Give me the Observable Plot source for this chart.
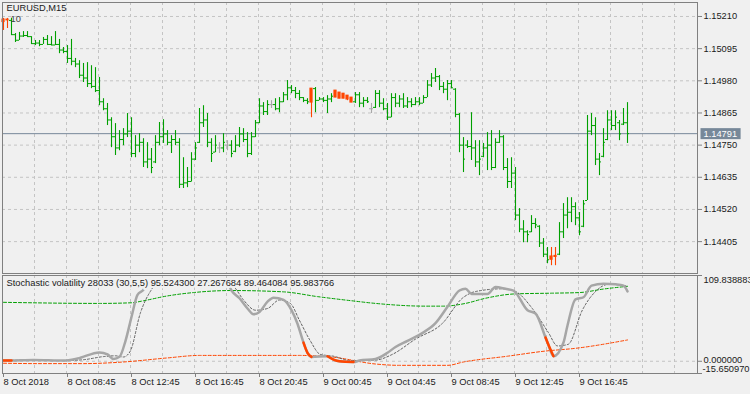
<!DOCTYPE html>
<html><head><meta charset="utf-8">
<script src="https://cdn.jsdelivr.net/npm/d3@7"></script>
<script src="https://cdn.jsdelivr.net/npm/@observablehq/plot@0.6"></script>
<style>
html,body{margin:0;padding:0;background:#f0f0f0;}
#chart{position:relative;width:750px;height:394px;overflow:hidden;background:#f0f0f0;}
#chart svg{display:block;}
</style></head><body><div id="chart"></div>
<script>
// ---------- DATA ----------
const symbolLabel = "EURUSD,M15";
const markerLabel = "10";
const indicatorLabel = "Stochastic volatility 28033 (30,5,5) 95.524300 27.267684 89.464084 95.983766";

const open = [
1.15190,1.15199,1.15196,1.15145,1.15125,1.15140,1.15142,1.15138,1.15113,1.15115,
1.15110,1.15128,1.15110,1.15108,1.15110,1.15090,1.15085,1.15060,1.15050,1.15040,
1.15000,1.14990,1.14970,1.14960,1.14945,1.14905,1.14880,1.14840,1.14780,1.14740,
1.14770,1.14790,1.14800,1.14720,1.14750,1.14760,1.14690,1.14700,1.14690,1.14760,
1.14780,1.14790,1.14760,1.14770,1.14760,1.14610,1.14615,1.14620,1.14700,1.14760,
1.14830,1.14840,1.14760,1.14725,1.14740,1.14740,1.14750,1.14750,1.14728,1.14750,
1.14790,1.14770,1.14720,1.14780,1.14830,1.14890,1.14870,1.14895,1.14895,1.14880,
1.14905,1.14930,1.14955,1.14945,1.14935,1.14920,1.14910,1.14902,1.14952,1.14910,
1.14915,1.14910,1.14915,1.14945,1.14938,1.14934,1.14927,1.14920,1.14905,1.14930,
1.14900,1.14910,1.14880,1.14885,1.14935,1.14900,1.14880,1.14850,1.14920,1.14900,
1.14915,1.14890,1.14905,1.14895,1.14905,1.14900,1.14920,1.14965,1.14990,1.14995,
1.14960,1.14950,1.14970,1.14950,1.14860,1.14750,1.14750,1.14745,1.14740,1.14690,
1.14710,1.14740,1.14750,1.14670,1.14760,1.14780,1.14670,1.14620,1.14650,1.14500,
1.14450,1.14440,1.14440,1.14470,1.14460,1.14400,1.14360,1.14340,1.14350,1.14360,
1.14440,1.14500,1.14510,1.14530,1.14490,1.14460,1.14552,1.14800,1.14820,1.14700,
1.14710,1.14770,1.14840,1.14820,1.14830,1.14825,1.14830];
const high = [
1.15203,1.15203,1.15203,1.15149,1.15153,1.15156,1.15156,1.15138,1.15124,1.15124,
1.15135,1.15142,1.15138,1.15156,1.15128,1.15099,1.15106,1.15128,1.15060,1.15052,
1.15042,1.15045,1.15034,1.15027,1.14992,1.14916,1.14899,1.14848,1.14827,1.14802,
1.14809,1.14863,1.14848,1.14784,1.14791,1.14773,1.14759,1.14738,1.14784,1.14831,
1.14841,1.14802,1.14784,1.14802,1.14773,1.14705,1.14670,1.14723,1.14759,1.14881,
1.14891,1.14863,1.14773,1.14784,1.14759,1.14791,1.14766,1.14766,1.14784,1.14813,
1.14809,1.14795,1.14795,1.14838,1.14916,1.14902,1.14909,1.14909,1.14916,1.14920,
1.14938,1.14981,1.14963,1.14956,1.14945,1.14920,1.14916,1.14952,1.14956,1.14920,
1.14920,1.14927,1.14934,1.14945,1.14938,1.14934,1.14927,1.14920,1.14938,1.14938,
1.14920,1.14920,1.14899,1.14945,1.14945,1.14916,1.14899,1.14934,1.14934,1.14927,
1.14934,1.14920,1.14916,1.14920,1.14920,1.14927,1.14981,1.15006,1.15024,1.14999,
1.14974,1.14981,1.14981,1.14952,1.14863,1.14777,1.14766,1.14866,1.14766,1.14766,
1.14756,1.14795,1.14802,1.14773,1.14802,1.14784,1.14702,1.14705,1.14670,1.14523,
1.14480,1.14444,1.14498,1.14487,1.14462,1.14416,1.14384,1.14384,1.14384,1.14473,
1.14541,1.14562,1.14562,1.14544,1.14509,1.14552,1.14856,1.14863,1.14848,1.14720,
1.14809,1.14873,1.14873,1.14873,1.14838,1.14881,1.14902];
const low = [
1.15160,1.15167,1.15142,1.15117,1.15124,1.15135,1.15135,1.15110,1.15106,1.15102,
1.15110,1.15106,1.15106,1.15106,1.15077,1.15077,1.15042,1.15034,1.15027,1.14988,
1.14974,1.14956,1.14952,1.14938,1.14891,1.14873,1.14820,1.14741,1.14713,1.14730,
1.14748,1.14777,1.14705,1.14705,1.14723,1.14670,1.14666,1.14648,1.14684,1.14748,
1.14756,1.14748,1.14720,1.14748,1.14595,1.14595,1.14598,1.14618,1.14695,1.14756,
1.14813,1.14741,1.14688,1.14723,1.14720,1.14723,1.14730,1.14705,1.14723,1.14741,
1.14759,1.14705,1.14713,1.14777,1.14827,1.14856,1.14856,1.14881,1.14873,1.14866,
1.14902,1.14909,1.14934,1.14916,1.14909,1.14902,1.14895,1.14848,1.14866,1.14909,
1.14902,1.14863,1.14902,1.14920,1.14916,1.14916,1.14909,1.14902,1.14899,1.14884,
1.14884,1.14899,1.14863,1.14881,1.14884,1.14873,1.14838,1.14848,1.14884,1.14884,
1.14881,1.14881,1.14884,1.14891,1.14891,1.14899,1.14920,1.14956,1.14974,1.14945,
1.14934,1.14909,1.14952,1.14848,1.14723,1.14652,1.14738,1.14695,1.14670,1.14641,
1.14705,1.14659,1.14659,1.14666,1.14756,1.14659,1.14595,1.14595,1.14480,1.14437,
1.14401,1.14401,1.14437,1.14451,1.14384,1.14348,1.14326,1.14319,1.14319,1.14355,
1.14416,1.14451,1.14473,1.14462,1.14426,1.14455,1.14552,1.14784,1.14677,1.14641,
1.14705,1.14766,1.14802,1.14802,1.14766,1.14820,1.14756];
const close = [
1.15199,1.15196,1.15145,1.15125,1.15140,1.15142,1.15138,1.15113,1.15115,1.15110,
1.15128,1.15110,1.15108,1.15110,1.15090,1.15085,1.15060,1.15050,1.15040,1.15000,
1.14990,1.14970,1.14960,1.14945,1.14905,1.14880,1.14840,1.14780,1.14740,1.14770,
1.14790,1.14800,1.14720,1.14750,1.14760,1.14690,1.14700,1.14670,1.14760,1.14780,
1.14790,1.14760,1.14770,1.14760,1.14610,1.14615,1.14620,1.14700,1.14740,1.14830,
1.14840,1.14760,1.14720,1.14750,1.14740,1.14760,1.14750,1.14720,1.14750,1.14790,
1.14770,1.14720,1.14780,1.14830,1.14890,1.14870,1.14895,1.14895,1.14880,1.14905,
1.14930,1.14955,1.14945,1.14935,1.14920,1.14910,1.14905,1.14952,1.14910,1.14915,
1.14910,1.14915,1.14925,1.14920,1.14916,1.14916,1.14913,1.14902,1.14930,1.14900,
1.14910,1.14905,1.14880,1.14935,1.14900,1.14880,1.14850,1.14920,1.14900,1.14915,
1.14890,1.14905,1.14895,1.14905,1.14900,1.14920,1.14965,1.14990,1.14995,1.14960,
1.14950,1.14970,1.14955,1.14860,1.14750,1.14700,1.14745,1.14740,1.14690,1.14700,
1.14740,1.14750,1.14670,1.14760,1.14780,1.14670,1.14620,1.14650,1.14500,1.14450,
1.14440,1.14430,1.14470,1.14465,1.14400,1.14360,1.14340,1.14352,1.14354,1.14440,
1.14500,1.14510,1.14530,1.14490,1.14440,1.14540,1.14800,1.14820,1.14700,1.14690,
1.14760,1.14840,1.14820,1.14850,1.14790,1.14830,1.14791];
// bars highlighted by the indicator on the price chart
const signalBars = [0,1,77,83,84,85,86,87,137,138];
const bidPrice = 1.14791;
const priceTicks = [1.15210,1.15095,1.14980,1.14865,1.14750,1.14635,1.14520,1.14405];
const priceDomain = [1.14291, 1.15260];

// time axis (bar index of each label)
const timeTickIdx = [0,16,32,48,64,80,96,112,128,144];
const timeLabels = ["8 Oct 2018","8 Oct 08:45","8 Oct 12:45","8 Oct 16:45","8 Oct 20:45",
  "9 Oct 00:45","9 Oct 04:45","9 Oct 08:45","9 Oct 12:45","9 Oct 16:45"];

// indicator pane (bar index, value)
const indMax = 109.838883, indMin = -15.650970;
const mainIdx = [0,2,7.5,15,18.5,24,26,27.5,29,30.5,32,33.5,35,36,56,57,59,61,62.5,64,66,
  67.5,70,72,73.5,75,76,77,81,82.5,84,87.5,89,93,96,98,101,105,108,111,114,
  115.5,117,121,123,125.5,127.5,131,133,135.5,136,137.5,140,141,143,145,147,150,153,155,156];
const mainVal = [0.9,1.0,1.7,0.9,3.5,11.4,8.8,3.0,5.7,26.2,56.7,85,91.5,100,100,90.6,80.7,67.6,60.2,63.2,76.3,
  81.5,78.5,65.4,48,23.9,10.9,5.6,6.5,2.2,0,-0.9,0.9,3,10.9,18.3,26.2,37,48.8,69.7,90.6,
  92.8,86.3,86.3,95,92.8,90.6,65.4,61.1,30.5,24,6.5,24,45.8,79.4,82,96.8,99.4,98.5,96.8,89.5];
const hotRanges = [[0,2],[75,77],[81,87.5],[135.5,137.5]];
const sigIdx = [0,7.5,15,20,25,28,30,31.7,34.2,36.7,38.5,56,57.5,60,63,66,69,71.7,74,76.7,
  79.2,82.5,86.7,93,97.2,103,109.7,114.7,118,124.7,128,132.2,136.2,138.5,141.2,144.7,148,151.2,155,156];
const sigVal = [0.9,1.5,0.9,2,6,7,5.5,13,61.5,89.3,100,100,96,78.5,65.4,67.6,78.5,74.1,52.3,26.2,
  8.8,6.5,0.9,1.5,8.8,28.4,48.4,80.7,89.3,92.8,89.3,67.6,37,19.6,21.8,65.4,89.3,98.5,97.2,95.5];
const upIdx = [0,24,32,35,41,47.5,57,70,78.5,87,93,105.5,110,115.5,120.5,128,137,144,150,156];
const upVal = [75.5,74.1,74.9,77.5,83.7,88.0,90.6,88.9,82.8,77.5,74.1,70.6,70.6,74.1,80.7,86.3,87.2,88.0,92.5,96.0];
const loIdx = [0,8.5,20,30,41,49,74,82.5,93,99,111,115,126,135.5,143,156];
const loVal = [-2.5,-3.0,-3.0,-0.9,4.3,7.5,7.5,5.2,-3.5,-5.2,-5.2,-0.9,6.5,13.1,16.6,27.3];

// ---------- BUILD ----------
const FONT = "'Liberation Sans', Arial, sans-serif";
const FS = 9.3;
const BG = "#f0f0f0";
const GREEN = "#00a000", ORANGE = "#ff4500", DOJI = "#a8a8a8";
const X_DOMAIN = [-0.25, 173.5];
const grid = {stroke:"#c4c4c4", strokeDasharray:"3,3", strokeWidth:1};
const gridIdx = d3.range(1, 22).map(k => 8 * k - 0.25);

const bars = open.map((o, i) => ({i, open:o, high:high[i], low:low[i], close:close[i], sig: signalBars.includes(i)}));
const plain = bars.filter(d => !d.sig);
const hot = bars.filter(d => d.sig);
const colorOf = d => d.sig ? ORANGE : (d.open === d.close ? DOJI : GREEN);

const topPlot = Plot.plot({
  width:750, height:274, marginLeft:2, marginRight:53, marginTop:2, marginBottom:1,
  style:{background:BG, fontFamily:FONT, fontSize:FS+"px", color:"#1a1a1a", overflow:"visible"},
  x:{domain:X_DOMAIN, axis:null},
  y:{domain:priceDomain},
  marks:[
    Plot.ruleY(priceTicks, grid),
    Plot.ruleX(gridIdx, grid),
    Plot.ruleY([bidPrice], {stroke:"#778899"}),
    Plot.ruleX(bars, {x:"i", y1:"low", y2:"high", stroke:colorOf, strokeWidth:1.1}),
    Plot.ruleY(plain, {y:"open", x1:d => d.i - 0.5, x2:d => d.i, stroke:colorOf}),
    Plot.ruleY(plain, {y:"close", x1:d => d.i, x2:d => d.i + 0.5, stroke:colorOf}),
    Plot.rect(hot, {x1:d => d.i - 0.4, x2:d => d.i + 0.4, y1:"open", y2:"close", fill:ORANGE, insetTop:-0.5, insetBottom:-0.5}),
    Plot.frame({stroke:"#808080"}),
    Plot.axisY(priceTicks, {anchor:"right", label:null, tickSize:4, tickPadding:2, tickFormat:d => d.toFixed(5), stroke:"#808080"}),
    Plot.text([bidPrice], {y:d => d, frameAnchor:"right", text:d => d.toFixed(5), dx:6, textAnchor:"start", fill:"white"}),
    Plot.text([symbolLabel], {frameAnchor:"top-left", dx:4, dy:1.5, fill:"#1a1a1a"}),
    Plot.text([markerLabel], {frameAnchor:"top-left", dx:8, dy:13, fill:"#404040"})
  ]
});

const mainPts = mainIdx.map((i, k) => ({i, v:mainVal[k]}));
const hotPts = hotRanges.flatMap(([a, b], s) => mainPts.filter(p => p.i >= a && p.i <= b).map(p => ({...p, seg:s})));
const sigPts = sigIdx.map((i, k) => ({i, v:sigVal[k]}));
const upPts = upIdx.map((i, k) => ({i, v:upVal[k]}));
const loPts = loIdx.map((i, k) => ({i, v:loVal[k]}));

const bottomPlot = Plot.plot({
  width:750, height:120, marginLeft:2, marginRight:53, marginTop:1, marginBottom:21,
  style:{background:BG, fontFamily:FONT, fontSize:FS+"px", color:"#1a1a1a", overflow:"visible"},
  x:{domain:X_DOMAIN},
  y:{domain:[indMin, indMax]},
  marks:[
    Plot.ruleX(gridIdx, grid),
    Plot.ruleY([0], grid),
    Plot.line(upPts, {x:"i", y:"v", stroke:"#00a000", strokeDasharray:"3,2", strokeWidth:1, curve:"monotone-x"}),
    Plot.line(loPts, {x:"i", y:"v", stroke:ORANGE, strokeDasharray:"3,2", strokeWidth:1, curve:"monotone-x"}),
    Plot.line(sigPts, {x:"i", y:"v", stroke:"#505050", strokeDasharray:"2,2", strokeWidth:0.9, curve:"monotone-x"}),
    Plot.line(mainPts, {x:"i", y:"v", stroke:"#a6a6a6", strokeWidth:2.5, curve:"monotone-x"}),
    Plot.line(hotPts, {x:"i", y:"v", z:"seg", stroke:ORANGE, strokeWidth:2.5, curve:"monotone-x"}),
    Plot.frame({stroke:"#808080"}),
    Plot.axisY([indMax, 0, indMin], {anchor:"right", label:null, tickSize:4, tickFormat:() => "", stroke:"#808080"}),
    Plot.text([indMax], {y:d => d, frameAnchor:"right", text:d => d.toFixed(6), dx:6, dy:4.5, textAnchor:"start"}),
    Plot.text([0], {y:d => d, frameAnchor:"right", text:d => d.toFixed(6), dx:6, dy:-1.5, textAnchor:"start"}),
    Plot.text([indMin], {y:d => d, frameAnchor:"right", text:d => d.toFixed(6), dx:5, dy:-4.5, textAnchor:"start"}),
    Plot.axisX(timeTickIdx, {anchor:"bottom", label:null, tickSize:4, tickPadding:1, textAnchor:"start", stroke:"#808080",
      tickFormat:d => timeLabels[timeTickIdx.indexOf(d)]}),
    Plot.text([indicatorLabel], {frameAnchor:"top-left", dx:4, dy:4, fill:"#1a1a1a", stroke:BG, strokeWidth:4.5, paintOrder:"stroke"})
  ]
});

const root = document.getElementById("chart");
root.append(topPlot, bottomPlot);

// background box for the current-price label
const label = bidPrice.toFixed(5);
const t = Array.from(topPlot.querySelectorAll("text")).find(el => el.textContent === label && el.getAttribute("fill") === "white")
  || Array.from(topPlot.querySelectorAll("text")).find(el => el.textContent === label);
if (t) {
  const bb = t.getBBox();
  const r = document.createElementNS("http://www.w3.org/2000/svg", "rect");
  r.setAttribute("x", bb.x - 3);
  r.setAttribute("y", bb.y - 0.5);
  r.setAttribute("width", bb.width + 6.5);
  r.setAttribute("height", bb.height + 1);
  r.setAttribute("fill", "#778899");
  if (t.getAttribute("transform")) r.setAttribute("transform", t.getAttribute("transform"));
  t.parentNode.insertBefore(r, t);
}
</script>
</body></html>
